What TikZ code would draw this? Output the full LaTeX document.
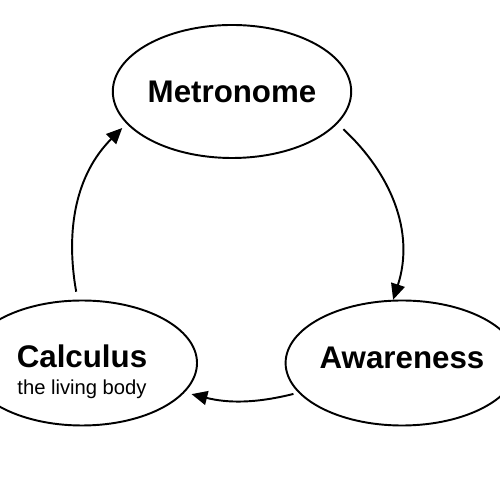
\documentclass[tikz,border=0pt]{standalone}
\usepackage{fontspec}
\setmainfont{Liberation Sans}
\usetikzlibrary{arrows.meta, shapes.geometric}
\tikzset{
    ovalnode/.style={ellipse, draw=black, line width=1.1pt, inner sep=0pt, align=center, minimum width=4.6cm, minimum height=2.5cm, font=\fontsize{11.5}{15.4}\selectfont},
    arrow/.style={-{Triangle[length=9pt, width=8pt]}, line width=1.1pt, color=black},
}
\newcommand{\bigtitle}{\fontsize{17.8}{20}\selectfont\bfseries}

\begin{document}
\begin{tikzpicture}
    \useasboundingbox (0,0) rectangle (10,10);
    \node[ovalnode, minimum width=4.72cm, minimum height=2.66cm] (metro) at (4.64,8.17) {\bigtitle Metronome};
    \node[ovalnode, text height=38.5pt] (calc) at (1.64,2.74) {{\bigtitle Calculus}\\the living body};
    \node[ovalnode, text depth=5.7pt] (aware) at (8.04,2.74) {\bigtitle Awareness};

    \draw[arrow, shorten <=0.16cm] (metro.-17) to[out=-43, in=72] (aware.98);
    \draw[arrow, shorten <=0.1cm, shorten >=0.14cm] (aware.196) to[out=194, in=-14] (calc.-16);
    \draw[arrow, shorten <=0.16cm, shorten >=0.12cm] (calc.94) to[out=100, in=225] (metro.197);
\end{tikzpicture}
\end{document}
